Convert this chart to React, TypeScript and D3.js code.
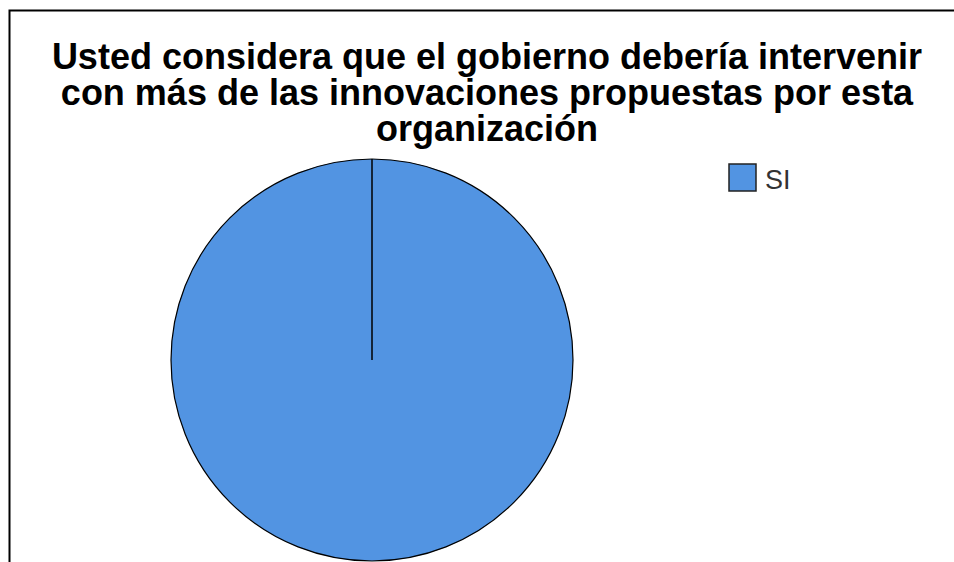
import React from "react";
import * as d3 from "d3";

const titleLines = [
  "Usted considera que el gobierno debería intervenir",
  "con más de las innovaciones propuestas por esta",
  "organización",
];
const categories = ["SI"];
const values = [100];
const colors = ["#5294E2"];

export default function App() {
  const W = 954, H = 562;
  const cx = 372, cy = 360, r = 201;
  const pie = d3.pie<number>().sort(null)(values);
  const arc = d3.arc<d3.PieArcDatum<number>>().innerRadius(0).outerRadius(r);
  return (
    <svg width={W} height={H} style={{ position: "absolute", left: 0, top: 0, background: "#fff" }}>
      <rect x={9.5} y={10.5} width={W + 20} height={H + 20} fill="#fff" stroke="#000" strokeWidth={2} />
      <g fontFamily="Liberation Sans, Arial, sans-serif" fontWeight="bold" fontSize={36} fill="#000" textAnchor="middle">
        {titleLines.map((t, i) => (
          <text key={i} x={487} y={69 + i * 36}>{t}</text>
        ))}
      </g>
      <g transform={`translate(${cx},${cy})`}>
        {pie.map((d, i) => (
          <path key={i} d={arc(d) || ""} fill={colors[i]} stroke="#000" strokeWidth={1.2} />
        ))}
        {pie.map((d, i) => (
          <line key={"l" + i} x1={0} y1={0} x2={r * Math.sin(d.startAngle)} y2={-r * Math.cos(d.startAngle)} stroke="#000" strokeWidth={1.5} />
        ))}
      </g>
      {categories.map((c, i) => (
        <g key={c} transform={`translate(729,${164 + i * 34})`}>
          <rect x={0} y={0} width={27} height={27} fill={colors[i]} stroke="#222" strokeWidth={1.5} />
          <text x={36} y={25} fontFamily="Liberation Sans, Arial, sans-serif" fontSize={27} fill="#333">{c}</text>
        </g>
      ))}
    </svg>
  );
}
